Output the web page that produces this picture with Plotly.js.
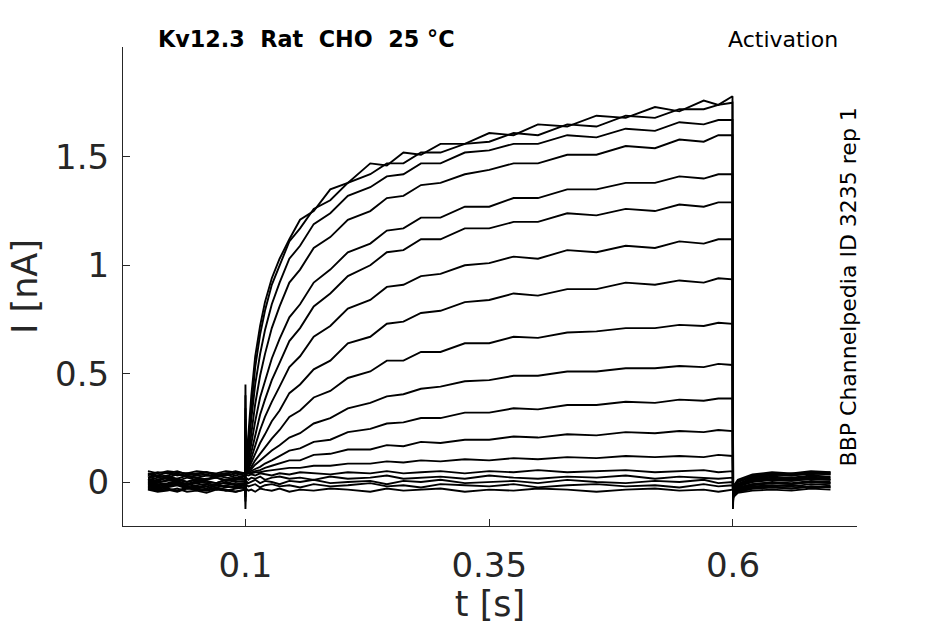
<!DOCTYPE html>
<html>
<head>
<meta charset="utf-8">
<script src="https://cdn.plot.ly/plotly-3.0.1.min.js"></script>
<style>html,body{margin:0;padding:0;background:#fff}#chart{width:945px;height:624px}</style>
</head>
<body>
<div id="chart"></div>
<script>
// time samples [s]
const t = [0,0.01,0.02,0.03,0.04,0.05,0.06,0.07,0.08,0.09,0.0995,
  0.1,0.1005,0.103,0.106,0.11,0.115,0.12,0.127,0.135,0.145,0.156,0.17,0.187,0.205,0.228,0.245,0.262,0.28,0.30,0.325,0.35,0.375,0.40,0.43,0.46,0.49,0.52,0.545,0.57,0.585,0.5995,
  0.6,0.6005,0.605,0.62,0.64,0.66,0.68,0.7];

// current traces [nA], one per voltage step (top to bottom)
const I01 = [0.03,0.01,0.025,0.015,0.03,0.02,0.01,0.03,0.02,0.015,0.025, 0.45, 0.08,0.22,0.40,0.58,0.72,0.83,0.94,1.03,1.12,1.21,1.25,1.35,1.38,1.47,1.46,1.52,1.51,1.56,1.56,1.61,1.60,1.65,1.64,1.69,1.68,1.73,1.71,1.76,1.74,1.78, -0.125, -0.04,-0.015,0.01,0.02,0.015,0.025,0.02];
const I02 = [0.04,0.03,0.045,0.03,0.04,0.035,0.045,0.03,0.04,0.03,0.04, 0.40, 0.07,0.19,0.35,0.53,0.68,0.79,0.91,1.00,1.11,1.17,1.26,1.30,1.38,1.42,1.47,1.47,1.52,1.52,1.56,1.57,1.61,1.60,1.65,1.64,1.69,1.68,1.72,1.72,1.74,1.75, -0.11, -0.03,0.0,0.025,0.035,0.03,0.04,0.035];
const I03 = [-0.005,-0.015,-0.01,0.0,-0.015,-0.005,-0.02,-0.01,-0.005,-0.015,-0.01, 0.34, 0.06,0.15,0.29,0.45,0.59,0.70,0.82,0.92,1.03,1.09,1.19,1.24,1.32,1.36,1.41,1.42,1.47,1.47,1.52,1.53,1.56,1.56,1.60,1.59,1.63,1.62,1.66,1.65,1.67,1.67, -0.10, -0.05,-0.03,-0.01,0.0,-0.005,0.005,0.0];
const I04 = [0.015,0.005,0.02,0.01,0.0,0.015,0.01,0.02,0.005,0.015,0.01, 0.29, 0.06,0.12,0.23,0.36,0.49,0.59,0.71,0.81,0.92,0.98,1.08,1.13,1.21,1.25,1.31,1.32,1.37,1.38,1.42,1.44,1.47,1.47,1.51,1.51,1.55,1.54,1.58,1.57,1.60,1.60, -0.095, -0.03,-0.01,0.02,0.03,0.04,0.035,0.045];
const I05 = [-0.025,-0.035,-0.03,-0.04,-0.025,-0.03,-0.035,-0.025,-0.04,-0.03,-0.025, 0.24, 0.05,0.10,0.18,0.28,0.39,0.47,0.57,0.66,0.76,0.82,0.92,0.98,1.06,1.10,1.16,1.17,1.22,1.22,1.27,1.27,1.31,1.31,1.35,1.35,1.38,1.38,1.41,1.40,1.42,1.42, -0.09, -0.06,-0.04,-0.025,-0.02,-0.015,-0.025,-0.02];
const I06 = [0.05,0.04,0.05,0.045,0.04,0.05,0.045,0.04,0.05,0.045,0.04, 0.20, 0.05,0.08,0.14,0.22,0.31,0.38,0.47,0.55,0.65,0.71,0.81,0.87,0.95,1.00,1.06,1.07,1.12,1.12,1.17,1.17,1.20,1.20,1.24,1.23,1.26,1.25,1.28,1.27,1.29,1.29, -0.085, -0.02,0.01,0.035,0.045,0.04,0.05,0.045];
const I07 = [0.005,-0.005,0.01,0.0,-0.01,0.005,0.0,-0.005,0.01,0.0,0.005, 0.16, 0.05,0.07,0.11,0.17,0.24,0.30,0.37,0.44,0.53,0.58,0.67,0.72,0.80,0.84,0.90,0.91,0.95,0.96,1.00,1.01,1.04,1.03,1.07,1.06,1.09,1.08,1.11,1.10,1.12,1.12, -0.08, -0.045,-0.02,0.0,0.01,0.005,0.015,0.01];
const I08 = [-0.015,-0.025,-0.02,-0.01,-0.025,-0.02,-0.03,-0.015,-0.02,-0.025,-0.015, 0.13, 0.05,0.06,0.09,0.13,0.18,0.22,0.28,0.33,0.41,0.45,0.52,0.56,0.64,0.67,0.73,0.74,0.78,0.79,0.83,0.84,0.87,0.86,0.89,0.89,0.92,0.91,0.93,0.92,0.94,0.935, -0.075, -0.06,-0.045,-0.03,-0.025,-0.03,-0.02,-0.025];
const I09 = [0.02,0.03,0.02,0.035,0.025,0.02,0.03,0.025,0.035,0.02,0.03, 0.11, 0.05,0.055,0.07,0.10,0.13,0.16,0.20,0.24,0.30,0.33,0.39,0.42,0.48,0.51,0.56,0.56,0.60,0.60,0.64,0.64,0.67,0.665,0.69,0.695,0.71,0.71,0.725,0.72,0.735,0.73, -0.07, -0.035,-0.01,0.015,0.025,0.02,0.03,0.025];
const I10 = [-0.035,-0.045,-0.04,-0.03,-0.045,-0.04,-0.05,-0.035,-0.04,-0.045,-0.035, 0.09, 0.045,0.05,0.06,0.08,0.10,0.12,0.145,0.17,0.205,0.225,0.27,0.295,0.34,0.365,0.395,0.405,0.43,0.44,0.465,0.47,0.49,0.49,0.51,0.51,0.525,0.525,0.535,0.53,0.545,0.54, -0.065, -0.07,-0.05,-0.04,-0.035,-0.04,-0.03,-0.035];
const I11 = [0.01,0.02,0.015,0.005,0.02,0.01,0.015,0.02,0.01,0.02,0.015, 0.07, 0.045,0.045,0.05,0.06,0.07,0.085,0.10,0.12,0.145,0.155,0.185,0.195,0.23,0.245,0.27,0.275,0.295,0.295,0.32,0.32,0.34,0.335,0.355,0.355,0.37,0.365,0.38,0.375,0.385,0.385, -0.06, -0.04,-0.02,0.005,0.015,0.01,0.02,0.015];
const I12 = [0.0,-0.01,-0.005,0.005,-0.01,0.0,-0.005,-0.015,0.0,-0.01,-0.005, 0.06, 0.04,0.04,0.045,0.05,0.055,0.065,0.075,0.085,0.10,0.10,0.125,0.13,0.15,0.15,0.17,0.165,0.185,0.18,0.195,0.195,0.21,0.205,0.22,0.215,0.23,0.225,0.235,0.23,0.24,0.235, -0.055, -0.05,-0.03,-0.015,-0.005,-0.01,0.0,-0.005];
const I13 = [0.035,0.045,0.04,0.05,0.035,0.04,0.045,0.035,0.04,0.05,0.04, 0.05, 0.04,0.04,0.04,0.045,0.045,0.05,0.055,0.06,0.065,0.065,0.075,0.075,0.085,0.085,0.095,0.09,0.10,0.095,0.105,0.10,0.11,0.105,0.115,0.11,0.12,0.115,0.12,0.115,0.125,0.12, -0.05, -0.03,0.0,0.03,0.04,0.035,0.045,0.04];
const I14 = [-0.02,-0.03,-0.025,-0.015,-0.03,-0.025,-0.02,-0.035,-0.025,-0.02,-0.03, -0.03, 0.035,0.03,0.035,0.03,0.04,0.035,0.03,0.04,0.035,0.045,0.04,0.035,0.045,0.04,0.05,0.04,0.045,0.05,0.04,0.05,0.045,0.055,0.045,0.05,0.055,0.045,0.05,0.055,0.045,0.05, -0.03, -0.05,-0.035,-0.02,-0.015,-0.02,-0.01,-0.015];
const I15 = [0.01,0.0,0.005,0.015,0.0,0.01,0.005,-0.005,0.01,0.005,0.0, -0.05, 0.02,0.01,0.02,0.015,0.025,0.01,0.02,0.025,0.015,0.02,0.01,0.025,0.015,0.02,0.03,0.015,0.02,0.025,0.015,0.03,0.02,0.015,0.025,0.02,0.03,0.015,0.025,0.02,0.015,0.02, -0.02, -0.04,-0.015,0.005,0.01,0.005,0.015,0.01];
const I16 = [-0.03,-0.04,-0.035,-0.045,-0.03,-0.035,-0.04,-0.03,-0.035,-0.045,-0.035, -0.07, 0.005,-0.005,0.0,0.01,-0.005,0.005,0.0,-0.01,0.005,0.0,0.01,-0.005,0.0,0.005,-0.01,0.005,0.0,0.01,-0.005,0.0,0.005,-0.005,0.01,0.0,-0.005,0.005,0.0,0.01,-0.005,0.0, -0.01, -0.06,-0.045,-0.03,-0.025,-0.03,-0.02,-0.025];
const I17 = [0.035,0.025,0.03,0.04,0.025,0.03,0.035,0.025,0.03,0.04,0.03, -0.09, -0.01,-0.02,-0.015,-0.01,-0.025,-0.015,-0.01,-0.02,-0.015,-0.025,-0.01,-0.02,-0.015,-0.005,-0.02,-0.015,-0.025,-0.01,-0.015,-0.02,-0.01,-0.025,-0.015,-0.01,-0.02,-0.015,-0.025,-0.01,-0.02,-0.015, 0.0, -0.02,0.005,0.025,0.035,0.03,0.04,0.035];
const I18 = [-0.01,-0.02,-0.015,-0.005,-0.02,-0.015,-0.01,-0.025,-0.015,-0.01,-0.02, -0.125, -0.03,-0.04,-0.035,-0.045,-0.03,-0.035,-0.04,-0.03,-0.045,-0.035,-0.04,-0.03,-0.035,-0.045,-0.03,-0.04,-0.035,-0.03,-0.045,-0.035,-0.04,-0.03,-0.035,-0.045,-0.035,-0.03,-0.04,-0.035,-0.045,-0.035, 0.01, -0.045,-0.025,-0.01,-0.005,-0.01,0.0,-0.005];

const traces = [I01,I02,I03,I04,I05,I06,I07,I08,I09,I10,I11,I12,I13,I14,I15,I16,I17,I18];

const xTickVals = [0.1, 0.35, 0.6];
const xTickText = ['0.1', '0.35', '0.6'];
const yTickVals = [0, 0.5, 1, 1.5];
const yTickText = ['0', '0.5', '1', '1.5'];

const data = traces.map(y => ({
  x: t, y: y, type: 'scatter', mode: 'lines',
  line: {color: '#000000', width: 1.9},
  hoverinfo: 'skip'
}));

const FONT = 'DejaVu Sans, sans-serif';
const axisCommon = {
  showgrid: false, zeroline: false, showline: true,
  linecolor: '#262626', linewidth: 1,
  ticks: 'inside', ticklen: 7, tickwidth: 1, tickcolor: '#262626',
  tickfont: {family: FONT, size: 34, color: '#262626'},
  tickmode: 'array', fixedrange: true
};

const layout = {
  width: 945, height: 624,
  margin: {l: 123, r: 88, t: 47, b: 98},
  paper_bgcolor: '#ffffff', plot_bgcolor: '#ffffff',
  showlegend: false, hovermode: false,
  xaxis: Object.assign({}, axisCommon, {
    range: [-0.0256, 0.7272],
    tickvals: xTickVals, ticktext: xTickText,
    ticklabelstandoff: 9,
    title: {text: 't [s]', font: {family: FONT, size: 35, color: '#262626'}, standoff: 6}
  }),
  yaxis: Object.assign({}, axisCommon, {
    range: [-0.203, 2.007],
    tickvals: yTickVals, ticktext: yTickText,
    ticklabelstandoff: 6,
    title: {text: 'I [nA]', font: {family: FONT, size: 35, color: '#262626'}, standoff: 6}
  }),
  annotations: [
    {text: '<b>Kv12.3  Rat  CHO  25 °C</b>', xref: 'paper', yref: 'paper',
     x: 0.0445, y: 1.0157, xanchor: 'left', yanchor: 'middle', showarrow: false,
     font: {family: FONT, size: 22.3, color: '#000000'}},
    {text: 'Activation', xref: 'paper', yref: 'paper',
     x: 0.977, y: 1.0157, xanchor: 'right', yanchor: 'middle', showarrow: false,
     font: {family: FONT, size: 22, color: '#000000'}},
    {text: 'BBP Channelpedia ID 3235 rep 1', xref: 'paper', yref: 'paper',
     x: 0.989, y: 0.5, xanchor: 'center', yanchor: 'middle', textangle: -90, showarrow: false,
     font: {family: FONT, size: 22, color: '#000000'}}
  ]
};

Plotly.newPlot('chart', data, layout, {staticPlot: true, displayModeBar: false});
</script>
</body>
</html>
